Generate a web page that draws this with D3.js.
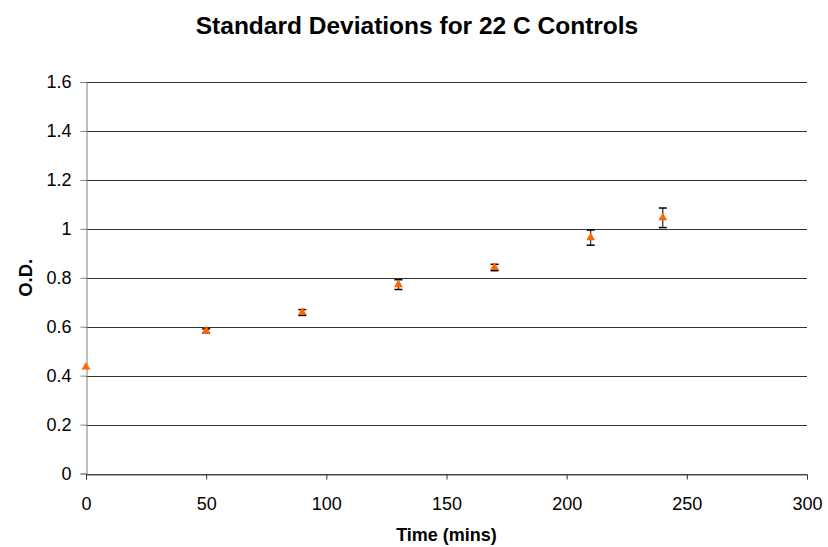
<!DOCTYPE html>
<html>
<head>
<meta charset="utf-8">
<script src="https://cdn.jsdelivr.net/npm/d3@7"></script>
<style>
  html, body { margin: 0; padding: 0; background: #fff; }
  svg { display: block; font-family: "Liberation Sans", Arial, sans-serif; }
</style>
</head>
<body>
<svg id="chart" width="828" height="547"></svg>
<script>
// Sampling times (minutes)
const times = [0, 50, 90, 130, 170, 210, 240];
// Mean optical density at each time
const meanOD = [0.435, 0.583, 0.658, 0.772, 0.842, 0.964, 1.045];
// Standard deviation of optical density
const sdOD = [0.004, 0.008, 0.012, 0.02, 0.013, 0.031, 0.04];

const xTicks = [0, 50, 100, 150, 200, 250, 300];
const yTicks = [0, 0.2, 0.4, 0.6, 0.8, 1, 1.2, 1.4, 1.6];

const svg = d3.select("#chart");
const margin = { left: 86, right: 21, top: 82, bottom: 73.5 };
const W = 828, H = 547;

const x = d3.scaleLinear().domain([0, 300]).range([margin.left, W - margin.right]);
const y = d3.scaleLinear().domain([0, 1.6]).range([H - margin.bottom, margin.top]);

// Horizontal gridlines
svg.append("g")
  .selectAll("line")
  .data(yTicks)
  .join("line")
  .attr("x1", x(0)).attr("x2", x(300))
  .attr("y1", d => Math.round(y(d)) + 0.5).attr("y2", d => Math.round(y(d)) + 0.5)
  .attr("stroke", "#333").attr("stroke-width", 1);

// Y axis
const yAxis = svg.append("g")
  .attr("transform", `translate(${Math.round(x(0)) + 0.5},0)`)
  .call(d3.axisLeft(y).tickValues(yTicks).tickSize(6).tickPadding(9)
    .tickFormat(d => d3.format("")(+d.toFixed(1))));
yAxis.select(".domain").attr("stroke", "#808080");
yAxis.selectAll(".tick line").attr("stroke", "#808080");
yAxis.selectAll(".tick text").attr("font-size", 18).attr("fill", "#000")
  .attr("font-family", "Liberation Sans, Arial, sans-serif");

// X axis
const xAxis = svg.append("g")
  .attr("transform", `translate(0,${Math.round(y(0)) + 0.5})`)
  .call(d3.axisBottom(x).tickValues(xTicks).tickSize(5).tickPadding(18)
    .tickFormat(d3.format("d")));
xAxis.select(".domain").attr("stroke", "#555");
xAxis.selectAll(".tick line").attr("stroke", "#333");
xAxis.selectAll(".tick text").attr("font-size", 18).attr("fill", "#000")
  .attr("font-family", "Liberation Sans, Arial, sans-serif");

// Error bars
const eb = svg.append("g").selectAll("g")
  .data(times.map((t, i) => ({ t, m: meanOD[i], s: sdOD[i] })))
  .join("g");
eb.append("line")
  .attr("x1", d => x(d.t)).attr("x2", d => x(d.t))
  .attr("y1", d => y(d.m + d.s)).attr("y2", d => y(d.m - d.s))
  .attr("stroke", "#000").attr("stroke-width", 1);
eb.filter(d => d.s > 0.006).append("line")
  .attr("x1", d => x(d.t) - 4).attr("x2", d => x(d.t) + 4)
  .attr("y1", d => y(d.m + d.s)).attr("y2", d => y(d.m + d.s))
  .attr("stroke", "#000").attr("stroke-width", 1.5);
eb.filter(d => d.s > 0.006).append("line")
  .attr("x1", d => x(d.t) - 4).attr("x2", d => x(d.t) + 4)
  .attr("y1", d => y(d.m - d.s)).attr("y2", d => y(d.m - d.s))
  .attr("stroke", "#000").attr("stroke-width", 1.5);

// Triangle markers
const tri = d3.symbol().type(d3.symbolTriangle).size(34);
svg.append("g").selectAll("path")
  .data(times.map((t, i) => ({ t, m: meanOD[i] })))
  .join("path")
  .attr("d", tri)
  .attr("transform", d => `translate(${x(d.t)},${y(d.m)})`)
  .attr("fill", "#FF6600");

// Titles
svg.append("text")
  .attr("x", 417).attr("y", 34)
  .attr("text-anchor", "middle")
  .attr("font-size", 24.5).attr("font-weight", "bold")
  .text("Standard Deviations for 22 C Controls");

svg.append("text")
  .attr("x", (x(0) + x(300)) / 2).attr("y", 541)
  .attr("text-anchor", "middle")
  .attr("font-size", 18).attr("font-weight", "bold")
  .text("Time (mins)");

svg.append("text")
  .attr("transform", `translate(31.5,${(y(0) + y(1.6)) / 2}) rotate(-90)`)
  .attr("text-anchor", "middle")
  .attr("font-size", 18.5).attr("font-weight", "bold")
  .text("O.D.");
</script>
</body>
</html>
